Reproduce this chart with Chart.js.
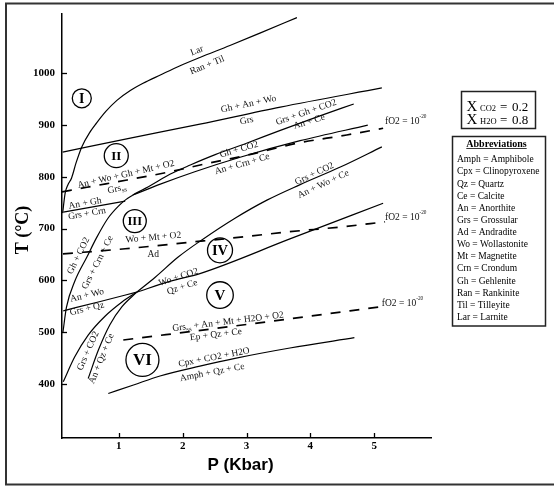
<!DOCTYPE html>
<html><head><meta charset="utf-8">
<script src="https://cdn.jsdelivr.net/npm/chart.js@4.4.1/dist/chart.umd.min.js"></script>
<style>html,body{margin:0;padding:0;background:#fff;}#wrap{width:554px;height:486px;position:relative;}</style>
</head><body><div id="wrap"><canvas id="c" width="554" height="486"></canvas></div>
<script>
// ---- axis data ----
const X_TICKS = [1, 2, 3, 4, 5];
const Y_TICKS = [400, 500, 600, 700, 800, 900, 1000];
const X_RANGE = [0.11, 5.89];
const Y_RANGE = [295, 1115];
const X_TITLE = "P (Kbar)";
const Y_TITLE = "T (°C)";

// ---- reaction curves [P (kbar), T (°C)] ----
const LAR_RANTIL = [[0.12,730],[0.16,769],[0.20,784],[0.26,798],[0.33,827],[0.42,858],[0.55,887],[0.65,904],[0.80,927],[0.97,948],[1.18,967],[1.38,981],[1.65,997],[1.96,1015],[2.27,1031],[2.74,1054],[3.21,1078],[3.79,1108]];
const GHANWO_GRS = [[0.12,848],[1.18,875],[2.27,902],[3.53,935],[5.12,972]];
const FO2_HIGH = [[0.11,771],[0.50,780],[1.13,794],[1.77,809],[2.35,825],[3.01,842],[3.79,865],[4.57,881],[5.14,894]];
const ANGH_GRSCRN = [[0.13,732],[1.10,753]];
const GHCO2_GRSCRNCE = [[0.125,500],[0.18,548],[0.31,598],[0.50,645],[0.65,682],[0.83,720],[0.99,743],[1.11,756],[1.22,765]];
const GRSGHCO2_ANCE = [[1.22,765],[1.49,783],[1.80,805],[2.12,823],[2.51,843],[3.00,865],[3.53,890],[4.15,918],[4.68,941]];
const GHCO2_ANCRNCE = [[1.22,765],[1.65,786],[2.19,810],[2.90,838],[3.84,870],[4.90,900]];
const FO2_MID = [[0.125,651],[1.10,661],[2.07,673],[2.95,684],[3.68,694],[4.47,703],[5.17,713]];
const GRSCO2_ANQZCE = [[0.52,410],[0.68,465],[0.86,514],[1.05,549],[1.28,577]];
const GRSCO2_ANWOCE = [[1.28,577],[1.57,606],[1.93,645],[2.30,678],[2.82,720],[3.32,755],[3.84,785],[4.47,819],[5.12,858]];
const LOWER_LEFT = [[0.13,404],[0.31,452],[0.52,494],[0.78,530],[1.05,558],[1.28,577]];
const ANWO_GRSQZ = [[0.13,541],[0.71,559],[1.28,577]];
const WOCO2_QZCE = [[1.28,577],[1.80,598],[2.27,613],[3.68,680],[5.14,749]];
const FO2_LOW = [[1.07,484.5],[3.06,515.5],[5.12,549]];
const CPX_AMPH = [[0.835,381],[1.23,397.5],[1.645,415],[2.27,434],[2.82,449],[3.68,469],[4.69,489]];

// ---- text annotations [text, P, T, angle deg] ----
const CURVE_LABELS = [
  ["Lar", 2.22, 1045, 22],
  ["Ran + Til", 2.38, 1017, 22],
  ["Gh + An + Wo", 3.03, 942, 12],
  ["Grs", 3.00, 910, 12],
  ["Grs + Gh + CO2", 3.93, 926, 19],
  ["An + Ce", 3.98, 908, 17],
  ["Gh + CO2", 2.88, 854, 16],
  ["An + Crn + Ce", 2.93, 826, 16],
  ["An + Wo + Gh + Mt + O2", 1.11, 806, 13],
  ["Grs_{ss}", 0.97, 778, 13],
  ["An + Gh", 0.47, 750, 10],
  ["Grs + Crn", 0.50, 730, 10],
  ["Gh + CO2", 0.36, 648, 64],
  ["Grs + Crn + Ce", 0.66, 635, 63],
  ["Wo + Mt + O2", 1.54, 684, 5],
  ["Ad", 1.54, 651, 0],
  ["Grs + CO2", 4.06, 807, 25],
  ["An + Wo + Ce", 4.20, 787, 25],
  ["Wo + CO2", 1.93, 607, 18],
  ["Qz + Ce", 1.99, 588, 18],
  ["An + Wo", 0.50, 572, 13],
  ["Grs + Qz", 0.50, 546, 13],
  ["Grs_{ss} + An + Mt + H2O + O2", 2.71, 521, 7],
  ["Ep + Qz + Ce", 2.52, 496, 7],
  ["Cpx + CO2 + H2O", 2.49, 452, 11],
  ["Amph + Qz + Ce", 2.46, 423, 11],
  ["Grs + CO2", 0.51, 464, 66],
  ["An + Qz + Ce", 0.72, 449, 68]
];
const FO2_LABELS = [
  ["fO2 = 10^{-20}", 5.17, 908],
  ["fO2 = 10^{-20}", 5.17, 722],
  ["fO2 = 10^{-20}", 5.12, 557]
];
const REGIONS = [["I", 0.42, 952], ["II", 0.96, 841], ["III", 1.25, 714.5], ["IV", 2.585, 658], ["V", 2.585, 571.5], ["VI", 1.37, 446]];
const XCO2_TEXT = ["X", "CO2", "=", "0.2"];
const XH2O_TEXT = ["X", "H2O", "=", "0.8"];
const ABBR_TITLE = "Abbreviations";
const ABBREVIATIONS = ["Amph = Amphibole","Cpx = Clinopyroxene","Qz = Quartz","Ce = Calcite","An = Anorthite","Grs = Grossular","Ad = Andradite","Wo = Wollastonite","Mt = Magnetite","Crn = Crondum","Gh = Gehlenite","Ran = Rankinite","Til = Tilleyite","Lar = Larnite"];

// ---- styling ----
const SERIF = "'Liberation Serif','Times New Roman',serif";
const SANS = "'Liberation Sans',Arial,sans-serif";
const REGION_STYLE = {I:[9.5,14], II:[12,13], III:[11.5,12.5], IV:[12.5,14.5], V:[13.3,15], VI:[16.5,17]};

const solid = [LAR_RANTIL, GHANWO_GRS, ANGH_GRSCRN, GHCO2_GRSCRNCE, GRSGHCO2_ANCE, GHCO2_ANCRNCE, GRSCO2_ANQZCE, GRSCO2_ANWOCE, LOWER_LEFT, ANWO_GRSQZ, WOCO2_QZCE, CPX_AMPH];
const dashed = [FO2_HIGH, FO2_MID, FO2_LOW];
const toPts = a => a.map(p => ({x: p[0], y: p[1]}));
const datasets = [];
solid.forEach(a => datasets.push({data: toPts(a), showLine: true, pointRadius: 0, borderColor: '#000', borderWidth: 1.2, cubicInterpolationMode: 'monotone', fill: false}));
dashed.forEach(a => datasets.push({data: toPts(a), showLine: true, pointRadius: 0, borderColor: '#000', borderWidth: 1.7, borderDash: [10, 9], cubicInterpolationMode: 'monotone', fill: false}));

function parseRich(s) {
  const segs = []; const re = /([_^])\{([^}]*)\}/g; let last = 0, m;
  while ((m = re.exec(s))) {
    if (m.index > last) segs.push({t: s.slice(last, m.index), k: 0});
    segs.push({t: m[2], k: m[1] === '_' ? 1 : 2});
    last = re.lastIndex;
  }
  if (last < s.length) segs.push({t: s.slice(last), k: 0});
  return segs;
}
function drawRich(ctx, s, x, y, size, align) {
  const segs = parseRich(s);
  const f = k => k === 0 ? size : (k === 1 ? size * 0.72 : size * 0.55);
  let w = 0;
  segs.forEach(g => { ctx.font = f(g.k) + 'px ' + SERIF; g.w = ctx.measureText(g.t).width; w += g.w; });
  let cx = align === 'center' ? x - w / 2 : x;
  ctx.textAlign = 'left'; ctx.textBaseline = 'alphabetic';
  segs.forEach(g => {
    ctx.font = f(g.k) + 'px ' + SERIF;
    const dy = g.k === 0 ? 0 : (g.k === 1 ? size * 0.22 : -size * 0.62);
    ctx.fillText(g.t, cx, y + size * 0.33 + dy);
    cx += g.w;
  });
}

const overlay = {
  id: 'overlay',
  afterDraw(chart) {
    const {ctx} = chart; const xs = chart.scales.x, ys = chart.scales.y;
    ctx.save();
    ctx.strokeStyle = '#000'; ctx.lineWidth = 1.3;
    X_TICKS.forEach(v => { const px = Math.round(xs.getPixelForValue(v)) + 0.5; ctx.beginPath(); ctx.moveTo(px, ys.bottom); ctx.lineTo(px, ys.bottom - 5); ctx.stroke(); });
    Y_TICKS.forEach(v => { const py = Math.round(ys.getPixelForValue(v)) + 0.5; ctx.beginPath(); ctx.moveTo(xs.left, py); ctx.lineTo(xs.left + 5, py); ctx.stroke(); });
    ctx.fillStyle = '#111';
    CURVE_LABELS.forEach(([t, p, T, a]) => {
      ctx.save();
      ctx.translate(xs.getPixelForValue(p), ys.getPixelForValue(T));
      ctx.rotate(-a * Math.PI / 180);
      drawRich(ctx, t, 0, 0, 9.5, 'center');
      ctx.restore();
    });
    FO2_LABELS.forEach(([t, p, T]) => drawRich(ctx, t, xs.getPixelForValue(p), ys.getPixelForValue(T), 9.5, 'left'));
    // region circles
    REGIONS.forEach(([t, p, T]) => {
      const [r, fs] = REGION_STYLE[t];
      const cx = xs.getPixelForValue(p), cy = ys.getPixelForValue(T);
      ctx.beginPath(); ctx.arc(cx, cy, r, 0, Math.PI * 2); ctx.lineWidth = 1.3; ctx.strokeStyle = '#000'; ctx.stroke();
      ctx.font = 'bold ' + fs + 'px ' + SERIF; ctx.textAlign = 'center'; ctx.textBaseline = 'middle'; ctx.fillStyle = '#000';
      ctx.fillText(t, cx, cy + 1);
    });
    // axis titles
    ctx.fillStyle = '#000';
    ctx.save(); ctx.translate(23, 230); ctx.rotate(-Math.PI / 2);
    ctx.font = 'bold 18px ' + SERIF; ctx.textAlign = 'center'; ctx.textBaseline = 'middle';
    ctx.fillText(Y_TITLE, 0, 0); ctx.restore();
    ctx.font = 'bold 17px ' + SANS; ctx.textAlign = 'center'; ctx.textBaseline = 'middle';
    ctx.fillText(X_TITLE, 240.5, 465);
    // X box
    ctx.lineWidth = 1.5; ctx.strokeStyle = '#222';
    ctx.strokeRect(461.5, 91.5, 74, 37);
    ctx.textAlign = 'left'; ctx.textBaseline = 'alphabetic';
    [[XCO2_TEXT, 110.5], [XH2O_TEXT, 124]].forEach(([arr, by]) => {
      ctx.font = '15px ' + SERIF; ctx.fillText(arr[0], 466.5, by);
      ctx.font = '8.5px ' + SERIF; ctx.fillText(arr[1], 480, by);
      ctx.font = '13px ' + SERIF; ctx.fillText(arr[2], 500, by); ctx.fillText(arr[3], 512, by);
    });
    // abbreviations box
    ctx.strokeRect(452.5, 136.5, 93, 189.5);
    ctx.font = 'bold 10px ' + SERIF; ctx.textAlign = 'center';
    ctx.fillText(ABBR_TITLE, 496.5, 146.5);
    const tw = ctx.measureText(ABBR_TITLE).width;
    ctx.lineWidth = 0.9; ctx.beginPath(); ctx.moveTo(496.5 - tw / 2, 148.5); ctx.lineTo(496.5 + tw / 2, 148.5); ctx.stroke();
    ctx.font = '9.5px ' + SERIF; ctx.textAlign = 'left';
    ABBREVIATIONS.forEach((s, i) => ctx.fillText(s, 457, 162.3 + 12.13 * i));
    // outer frame
    ctx.lineWidth = 2; ctx.strokeStyle = '#333';
    ctx.strokeRect(6, 3.5, 560, 481);
    ctx.restore();
  }
};

new Chart(document.getElementById('c'), {
  type: 'scatter',
  data: {datasets},
  options: {
    responsive: false, animation: false, devicePixelRatio: 1,
    layout: {padding: {left: 0, top: 14, right: 123, bottom: 0}},
    plugins: {legend: {display: false}, tooltip: {enabled: false}},
    scales: {
      x: {type: 'linear', min: X_RANGE[0], max: X_RANGE[1],
        afterBuildTicks: s => { s.ticks = X_TICKS.map(v => ({value: v})); },
        afterFit: s => { s.height = 48; },
        grid: {display: false, drawTicks: false},
        border: {display: true, color: '#000', width: 1.5},
        ticks: {autoSkip: false, maxRotation: 0, padding: 2, color: '#000', font: {family: SERIF, weight: 'bold', size: 11}, callback: v => String(v)}},
      y: {type: 'linear', min: Y_RANGE[0], max: Y_RANGE[1],
        afterBuildTicks: s => { s.ticks = Y_TICKS.map(v => ({value: v})); },
        afterFit: s => { s.width = 62; },
        grid: {display: false, drawTicks: false},
        border: {display: true, color: '#000', width: 1.5},
        ticks: {autoSkip: false, padding: 7, color: '#000', font: {family: SERIF, weight: 'bold', size: 11}, callback: v => String(v)}}
    }
  },
  plugins: [overlay]
});
</script></body></html>
